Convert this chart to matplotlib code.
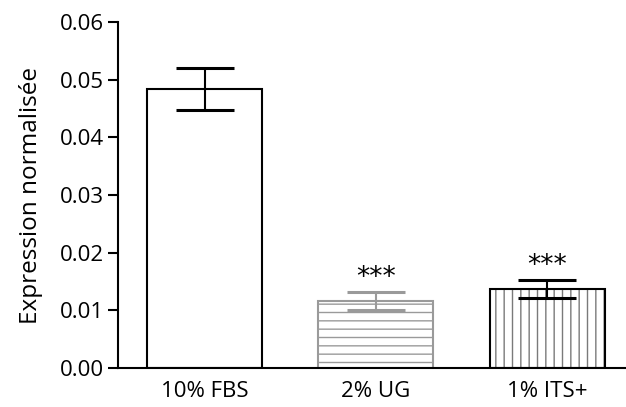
import numpy as np
import matplotlib.pyplot as plt

# Donnees
conditions = ['10% FBS', '2% UG', '1% ITS+']
expression = [0.0484, 0.0116, 0.0137]
erreur = [0.0036, 0.0015, 0.0015]
significance = ['', '***', '***']

plt.rcParams['font.family'] = ['Open Sans', 'DejaVu Sans']

fig = plt.figure(figsize=(6.26, 4.07), dpi=100)
ax = fig.add_axes([0.1885, 0.0958, 0.8115, 0.85])

x = np.arange(len(conditions))
w = 0.67

# barre 1 : blanche
ax.bar(x[0], expression[0], w, color='white', edgecolor='black', linewidth=1.5, zorder=2)
# barre 2 : hachures horizontales grises
ax.bar(x[1], expression[1], w, color='white', edgecolor='#9a9a9a', hatch='--', linewidth=1.5, zorder=2)
# barre 3 : hachures verticales grises, contour noir
ax.bar(x[2], expression[2], w, color='white', edgecolor='#7a7a7a', hatch='||', linewidth=0, zorder=2)
ax.bar(x[2], expression[2], w, color='none', edgecolor='black', linewidth=1.5, zorder=3)

couleurs_err = ['black', '#9a9a9a', 'black']
for i in range(len(conditions)):
    ax.errorbar(x[i], expression[i], yerr=erreur[i], fmt='none', ecolor=couleurs_err[i],
                elinewidth=1.5, capsize=21, capthick=2.2, zorder=4)
    if significance[i]:
        ax.text(x[i], expression[i] + erreur[i] + 0.0002, significance[i],
                ha='center', va='bottom', fontsize=19, family='DejaVu Sans')

ax.set_xlim(-0.505, 2.46)
ax.set_ylim(0, 0.06)
ax.set_yticks(np.arange(0, 0.061, 0.01))
ax.set_yticklabels(['%.2f' % v for v in np.arange(0, 0.061, 0.01)], fontsize=16)
ax.set_xticks(x)
ax.set_xticklabels(conditions, fontsize=16)
ax.tick_params(axis='x', length=0, pad=9)
ax.tick_params(axis='y', length=7, width=1.5, pad=3)
ax.set_ylabel('Expression normalisée', fontsize=17.5, labelpad=12)

ax.spines['top'].set_visible(False)
ax.spines['right'].set_visible(False)
ax.spines['left'].set_linewidth(1.5)
ax.spines['bottom'].set_linewidth(1.5)

fig.savefig('out.png', dpi=100)
